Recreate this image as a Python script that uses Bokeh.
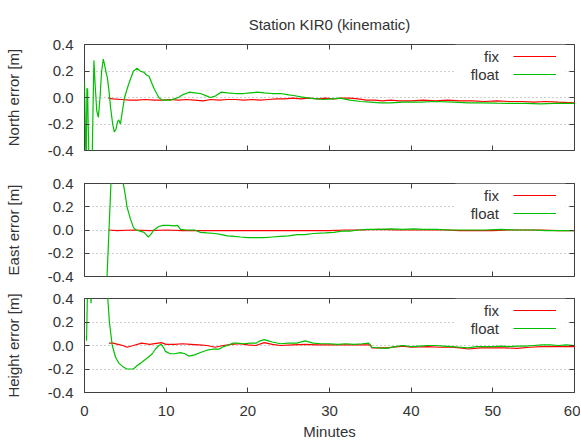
from bokeh.plotting import figure
from bokeh.layouts import column
from bokeh.models import (Range1d, LinearAxis, FixedTicker, Legend, LegendItem,
                          BoxAnnotation, Label)
from bokeh.embed import file_html
from bokeh.resources import INLINE

# ---------------- data (minutes, error in metres) ----------------
north_fix_t = [2.9, 3.5, 4.5, 5.5, 6.5, 7.5, 8.5, 9.5, 10.5, 11.5, 12.5, 13.5, 14.5, 15.5,
               16.5, 17.5, 18.5, 19.5, 20.5, 21.5, 22.5, 23.5, 24.5, 25.5, 26.5, 27.5, 28.5,
               29.5, 30.5, 31.5, 32.5, 33.5, 34.5, 35.5, 36.5, 37.5, 38.5, 40, 41.5, 43, 44.5,
               46, 47.5, 49, 50.5, 52, 53.5, 55, 56.5, 58, 60]
north_fix_v = [-0.005, -0.01, -0.015, -0.02, -0.02, -0.015, -0.02, -0.02, -0.015, -0.02, -0.015,
               -0.02, -0.025, -0.015, -0.02, -0.015, -0.015, -0.02, -0.015, -0.02, -0.015, -0.01,
               -0.01, -0.005, -0.01, -0.005, -0.01, -0.005, -0.01, -0.005, -0.005, -0.01, -0.02,
               -0.02, -0.025, -0.02, -0.025, -0.025, -0.02, -0.025, -0.02, -0.025, -0.025, -0.03,
               -0.025, -0.03, -0.03, -0.035, -0.03, -0.035, -0.04]
north_float_t = [0.0, 0.2, 0.3, 0.38, 0.45, 0.6, 0.9, 1.15, 1.3, 1.5, 1.7, 1.9, 2.1, 2.3, 2.45,
                 2.6, 2.8, 3.0, 3.2, 3.45, 3.65, 3.85, 4.05, 4.2, 4.4, 4.6, 4.9, 5.4, 6.0, 6.45,
                 6.8, 7.3, 7.6, 7.9, 8.5, 9.1, 9.5, 10.0, 10.5, 11.0, 11.5, 12.0, 12.8, 13.5, 14.2,
                 15.0, 15.4, 16.0, 16.7, 17.5, 18.5, 19.5, 20.3, 21.1, 22.0, 23.0, 24.0, 25.0,
                 25.6, 26.5, 27.5, 28.5, 29.3, 30.3, 31.3, 32.5, 33.8, 35.0, 36.2, 37.5, 39.0,
                 41.1, 43.0, 45.2, 47.0, 48.5, 50.5, 52.0, 54.0, 55.8, 57.5, 60.0]
north_float_v = [0.12, -0.55, 0.07, 0.06, -0.2, -0.6, -0.6, 0.28, 0.1, -0.1, -0.15, 0.0, 0.2,
                 0.29, 0.25, 0.2, 0.15, 0.05, -0.08, -0.2, -0.26, -0.24, -0.18, -0.17, -0.2,
                 -0.12, 0.0, 0.1, 0.2, 0.22, 0.2, 0.19, 0.17, 0.16, 0.07, 0.0, -0.02, -0.02,
                 -0.02, -0.01, 0.0, 0.02, 0.04, 0.035, 0.03, 0.01, 0.0, 0.01, 0.04, 0.035, 0.03,
                 0.03, 0.035, 0.04, 0.035, 0.03, 0.03, 0.02, 0.015, 0.005, -0.005, -0.01, -0.015,
                 -0.01, -0.005, -0.02, -0.03, -0.035, -0.04, -0.04, -0.035, -0.035, -0.03,
                 -0.035, -0.04, -0.04, -0.043, -0.045, -0.045, -0.048, -0.045, -0.045]

east_fix_t = [2.9, 4, 6, 8, 10, 12, 14, 16, 18, 20, 22, 24, 26, 28, 30, 32, 34, 36, 38, 40, 42,
              44, 46, 48, 50, 52, 54, 56, 58, 60]
east_fix_v = [0.0, -0.005, 0.0, -0.005, 0.0, -0.005, -0.005, -0.005, -0.005, -0.005, -0.005,
              -0.005, -0.005, -0.005, -0.005, 0.0, 0.0, 0.005, 0.0, 0.0, 0.0, 0.0, -0.005,
              -0.005, -0.005, 0.0, 0.0, 0.0, -0.005, -0.005]
east_float_t = [2.7, 3.0, 3.3, 4.7, 5.0, 5.2, 5.6, 6.0, 6.3, 6.8, 7.3, 7.8, 8.1, 8.5, 9.1, 9.6,
                10.3, 11.0, 11.4, 11.75, 12.5, 13.5, 14.2, 15.0, 16.0, 16.8, 17.5, 18.3, 19.1,
                20, 21, 22, 23, 24, 25, 26, 27, 28, 29.5, 30.5, 31.5, 32.5, 33.5, 34.6, 36,
                37.5, 39, 40.3, 41.5, 43, 45, 47, 49, 51, 53, 55, 56.5, 58, 60]
east_float_v = [-0.5, 0.0, 0.5, 0.42, 0.3, 0.2, 0.1, 0.02, 0.0, -0.01, -0.02, -0.06, -0.04, 0.0,
                0.03, 0.04, 0.04, 0.035, 0.04, 0.005, 0.0, 0.0, -0.02, -0.025, -0.03, -0.04,
                -0.05, -0.055, -0.06, -0.065, -0.065, -0.065, -0.06, -0.055, -0.05, -0.04,
                -0.04, -0.03, -0.025, -0.02, -0.01, -0.01, 0.0, 0.005, 0.005, 0.01, 0.005, 0.01,
                0.005, 0.005, 0.0, 0.0, 0.0, 0.005, 0.0, 0.0, -0.005, -0.005, -0.005]

height_fix_t = [3.0, 3.5, 4.1, 4.7, 5.2, 6.0, 7.0, 8.0, 9.4, 10.0, 11.0, 12.0, 13.0, 14.0, 15.0,
                16.0, 17.0, 18.0, 19.0, 20.0, 21.0, 22.0, 23.0, 24.0, 25.5, 27.0, 28.5, 30.0,
                32.0, 34.0, 35.0, 35.2, 37.0, 39.0, 40.0, 42.0, 43.5, 45.0, 46.0, 47.0, 48.5,
                50.0, 51.5, 53.0, 54.5, 56.0, 58.0, 60.0]
height_fix_v = [0.02, 0.02, 0.01, 0.0, -0.015, 0.0, 0.02, 0.01, 0.025, 0.01, 0.01, 0.015, 0.01,
                0.005, 0.0, -0.015, 0.0, 0.01, 0.015, 0.005, 0.0, 0.025, 0.01, 0.0, 0.005, 0.01,
                0.005, 0.005, 0.005, 0.005, 0.005, -0.02, -0.02, -0.005, -0.015, -0.01, -0.015,
                -0.015, -0.02, -0.03, -0.02, -0.02, -0.02, -0.025, -0.015, -0.01, -0.01, -0.01]
height_float_t = [0.25, 0.4, 0.7, 0.8, 0.9, 2.6, 2.85, 3.05, 3.4, 3.8, 4.2, 4.7, 5.2, 5.6, 6.0,
                  6.45, 6.9, 7.25, 7.8, 8.3, 8.7, 9.1, 9.4, 9.7, 9.9, 10.5, 11.0, 11.75, 12.3,
                  12.75, 13.5, 14.2, 15.0, 15.8, 16.5, 17.0, 17.5, 18.2, 18.7, 19.5, 20.3, 21.0,
                  21.5, 22.0, 22.5, 23.0, 24.0, 25.0, 26.0, 27.0, 28.0, 29.0, 30.0, 31.0, 32.0,
                  33.0, 34.0, 34.8, 35.2, 36.0, 37.0, 38.0, 39.0, 40.0, 41.0, 42.0, 43.0, 44.0,
                  45.0, 46.0, 47.0, 48.0, 49.0, 50.0, 51.0, 52.0, 53.0, 54.0, 55.0, 56.0, 57.0,
                  58.0, 59.0, 60.0]
height_float_v = [0.04, 0.6, 0.6, 0.36, 0.6, 0.6, 0.4, 0.2, 0.0, -0.1, -0.15, -0.18, -0.2, -0.2,
                  -0.2, -0.17, -0.15, -0.13, -0.1, -0.07, -0.03, 0.0, 0.01, -0.02, -0.05, -0.07,
                  -0.07, -0.06, -0.07, -0.09, -0.08, -0.06, -0.04, -0.03, -0.03, -0.01, 0.0,
                  0.02, 0.02, 0.015, 0.02, 0.02, 0.04, 0.05, 0.04, 0.03, 0.015, 0.02, 0.02, 0.04,
                  0.02, 0.015, 0.015, 0.01, 0.015, 0.01, 0.015, 0.02, -0.015, -0.02, -0.025,
                  -0.01, 0.0, -0.01, -0.005, 0.0, 0.0, -0.005, -0.01, -0.015, -0.02, -0.01,
                  -0.01, -0.01, -0.005, -0.01, -0.005, -0.005, 0.0, 0.005, 0.005, 0.0, 0.005, 0.0]

x_ticks = [0, 10, 20, 30, 40, 50, 60]
y_ticks = [-0.4, -0.2, 0.0, 0.2, 0.4]
legend_labels = ["fix", "float"]
title_text = "Station KIR0 (kinematic)"
x_label = "Minutes"

# ---------------- styling ----------------
FONT = "Liberation Sans"
FS = "15px"
TXT = "#333333"
FRAME = "#404040"
RED = "#ff0000"
GREEN = "#00c000"
FRAME_L = 84
FRAME_W = 490


def tick_axis(ticks, labels):
    ax = LinearAxis(ticker=FixedTicker(ticks=ticks))
    ax.axis_line_color = None
    ax.major_tick_in = 5
    ax.major_tick_out = 0
    ax.major_tick_line_color = FRAME
    ax.minor_tick_line_color = None
    if labels:
        ax.major_label_text_font = FONT
        ax.major_label_text_font_size = FS
        ax.major_label_text_color = TXT
    else:
        ax.major_label_overrides = {t: "" for t in ticks}
        ax.major_label_text_font_size = "1px"
        ax.major_label_standoff = 0
    return ax


def panel(ylabel, fix_t, fix_v, flt_t, flt_v, top_b, frame_h, bottom_b, last=False, title=None):
    p = figure(frame_width=FRAME_W, frame_height=frame_h,
               min_border_left=FRAME_L, min_border_right=6,
               min_border_top=top_b, min_border_bottom=bottom_b,
               x_range=Range1d(0, 60), y_range=Range1d(-0.4, 0.4),
               x_axis_location=None, y_axis_location=None,
               output_backend="svg", toolbar_location=None)
    p.outline_line_color = FRAME
    p.outline_line_width = 1
    p.background_fill_color = "white"
    p.border_fill_color = "white"

    if title:
        p.title.text = title
        p.title.align = "center"
        p.title.text_font = FONT
        p.title.text_font_size = FS
        p.title.text_font_style = "normal"
        p.title.text_color = TXT
        p.title.standoff = 24

    px_per_min = FRAME_W / 60.0
    px_per_unit = frame_h / 0.8

    ly = tick_axis(y_ticks, True)
    ly.major_label_overrides = {v: f"{v:.1f}" for v in y_ticks}
    ly.major_label_standoff = 11
    ly.axis_label = ylabel
    ly.axis_label_text_font = FONT
    ly.axis_label_text_font_size = FS
    ly.axis_label_text_font_style = "normal"
    ly.axis_label_text_color = TXT
    ly.axis_label_standoff = 23
    p.add_layout(ly, "left")
    p.add_layout(tick_axis(y_ticks, False), "right")
    p.add_layout(tick_axis(x_ticks, False), "above")
    bx = tick_axis(x_ticks, last)
    if last:
        bx.major_label_standoff = 13
        bx.axis_label = x_label
        bx.axis_label_text_font = FONT
        bx.axis_label_text_font_size = FS
        bx.axis_label_text_font_style = "normal"
        bx.axis_label_text_color = TXT
        bx.axis_label_standoff = 4
    p.add_layout(bx, "below")

    p.xgrid.visible = False
    p.ygrid.ticker = FixedTicker(ticks=y_ticks)
    p.ygrid.grid_line_color = "#a0a0a0"
    p.ygrid.grid_line_dash = "1 3"
    p.ygrid.grid_line_width = 1

    rf = p.line(fix_t, fix_v, line_color=RED, line_width=1.2)
    rg = p.line(flt_t, flt_v, line_color=GREEN, line_width=1.2)

    # gnuplot-like key: opaque white area, label on the left of the sample line
    box = BoxAnnotation(left=(455 - FRAME_L) / px_per_min, right=(565 - FRAME_L) / px_per_min,
                        top=0.4, bottom=0.4 - 38 / px_per_unit,
                        fill_color="white", fill_alpha=1.0, line_color=None)
    p.add_layout(box)
    leg_y = frame_h - 38.5 if frame_h % 2 == 0 else frame_h - 39
    leg = Legend(items=[LegendItem(label="", renderers=[rf]),
                        LegendItem(label="", renderers=[rg])],
                 location=(513 - FRAME_L, leg_y),
                 border_line_color=None, background_fill_alpha=0,
                 padding=0, spacing=0, margin=0,
                 glyph_width=43, glyph_height=18, label_height=18,
                 label_standoff=0, label_width=0)
    p.add_layout(leg)
    for i, lab in enumerate(legend_labels):
        p.add_layout(Label(x=(498.5 - FRAME_L) / px_per_min,
                           y=0.4 - (11.5 + 18 * i) / px_per_unit,
                           text=lab, text_align="right", text_baseline="middle",
                           text_font=FONT, text_font_size=FS, text_color=TXT))
    return p


p1 = panel("North error [m]", north_fix_t, north_fix_v, north_float_t, north_float_v,
           44, 106, 16, title=title_text)
p2 = panel("East error [m]", east_fix_t, east_fix_v, east_float_t, east_float_v,
           17, 93, 11)
p3 = panel("Height error [m]", height_fix_t, height_fix_v, height_float_t, height_float_v,
           11, 94, 50, last=True)

layout = column(p1, p2, p3, spacing=0)
open("out.html", "w").write(file_html(layout, INLINE))
